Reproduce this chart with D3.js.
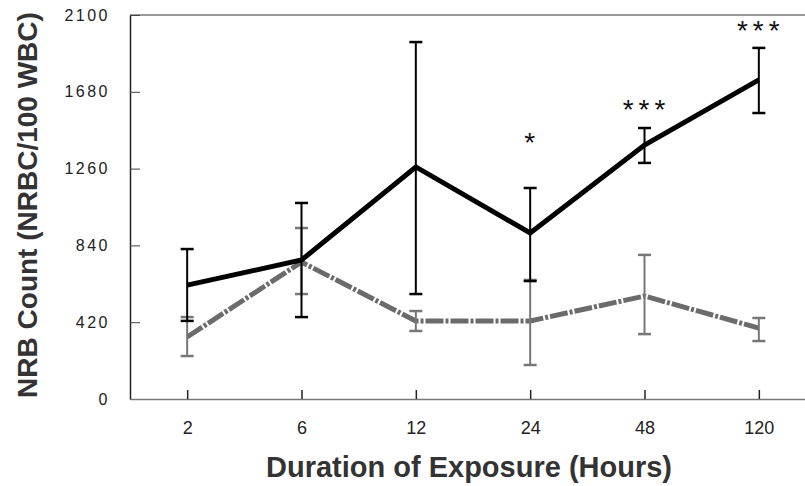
<!DOCTYPE html>
<html>
<head>
<meta charset="utf-8">
<script src="https://cdn.jsdelivr.net/npm/d3@7"></script>
<style>
  body { margin: 0; background: #fff; }
  svg { display: block; font-family: Arial, "Liberation Sans", sans-serif; }
</style>
</head>
<body>
<svg width="805" height="486"></svg>
<script>
'use strict';

// exposure durations (hours)
var hours = ["2", "6", "12", "24", "48", "120"];

// treated group (black solid line)
var treatMean = [623, 760, 1269, 908, 1389, 1745];
var treatHigh = [820, 1072, 1952, 1154, 1482, 1920];
var treatLow  = [427, 448, 574, 645, 1291, 1564];

// control group (grey dash-dot line)
var ctrlMean = [339, 749, 427, 427, 563, 388];
var ctrlHigh = [448, 935, 481, 651, 788, 443];
var ctrlLow  = [235, 574, 372, 186, 355, 317];

// significance markers and the level they sit at
var stars = ["", "", "", "*", "***", "***"];
var starLevel = [0, 0, 0, 1351, 1531, 1963];

var yTicks = [0, 420, 840, 1260, 1680, 2100];

var svg = d3.select("svg");
var margin = {left: 130, top: 15, bottom: 399, right: 816};

var x = d3.scalePoint().domain(hours).range([margin.left, margin.right]).padding(0.5);
var y = d3.scaleLinear().domain([0, 2100]).range([margin.bottom, margin.top]);

// top border
svg.append("line")
    .attr("x1", margin.left).attr("x2", 805)
    .attr("y1", margin.top).attr("y2", margin.top)
    .attr("stroke", "#777").attr("stroke-width", 1.5);

// y axis
var yAxis = svg.append("g")
    .attr("transform", "translate(" + margin.left + ",0)")
    .call(d3.axisRight(y).tickValues(yTicks).tickFormat(d3.format("d")).tickSize(10).tickSizeOuter(0));
yAxis.select(".domain").attr("stroke", "#222").attr("stroke-width", 1.5);
yAxis.selectAll(".tick line").attr("stroke", "#444");
yAxis.selectAll(".tick text")
    .attr("x", -20)
    .attr("text-anchor", "end")
    .attr("fill", "#222")
    .style("font-size", "16px")
    .style("letter-spacing", "2.5px");

// x axis
var xAxis = svg.append("g")
    .attr("transform", "translate(0," + margin.bottom + ")")
    .call(d3.axisTop(x).tickSize(9).tickSizeOuter(0));
xAxis.select(".domain").attr("stroke", "#777").attr("stroke-width", 1.5);
xAxis.selectAll(".tick line").attr("stroke", "#222").attr("stroke-width", 1.5);
xAxis.selectAll(".tick text")
    .attr("y", 35)
    .attr("fill", "#222")
    .style("font-size", "18px");

// axis titles
svg.append("text")
    .attr("transform", "translate(37,205) rotate(-90)")
    .attr("text-anchor", "middle")
    .attr("fill", "#333")
    .style("font-size", "28px")
    .style("font-weight", "bold")
    .text("NRB Count (NRBC/100 WBC)");

svg.append("text")
    .attr("x", 469).attr("y", 477)
    .attr("text-anchor", "middle")
    .attr("fill", "#333")
    .style("font-size", "29px")
    .style("font-weight", "bold")
    .text("Duration of Exposure (Hours)");

function drawSeries(mean, high, low, color, barColor, dash) {
  var g = svg.append("g");
  var line = d3.line()
      .x(function(d, i) { return x(hours[i]); })
      .y(function(d) { return y(d); });

  g.append("path")
      .datum(mean)
      .attr("fill", "none")
      .attr("stroke", color)
      .attr("stroke-width", 5)
      .attr("stroke-dasharray", dash)
      .attr("d", line);

  var bars = g.selectAll(".err")
      .data(hours)
      .enter().append("g");
  bars.append("line")
      .attr("x1", function(d) { return x(d); })
      .attr("x2", function(d) { return x(d); })
      .attr("y1", function(d, i) { return y(high[i]); })
      .attr("y2", function(d, i) { return y(low[i]); })
      .attr("stroke", barColor).attr("stroke-width", 2);
  [high, low].forEach(function(arr) {
    bars.append("line")
        .attr("x1", function(d) { return x(d) - 6.5; })
        .attr("x2", function(d) { return x(d) + 6.5; })
        .attr("y1", function(d, i) { return y(arr[i]); })
        .attr("y2", function(d, i) { return y(arr[i]); })
        .attr("stroke", barColor).attr("stroke-width", 2.5);
  });
}

drawSeries(ctrlMean, ctrlHigh, ctrlLow, "#6b6b6b", "#777", "18,2,3,2");
drawSeries(treatMean, treatHigh, treatLow, "#000", "#000", null);

// significance stars above the treated error bars
svg.append("g").selectAll("text")
    .data(hours)
    .enter().append("text")
    .attr("x", function(d) { return x(d) + 2; })
    .attr("y", function(d, i) { return y(starLevel[i]); })
    .attr("text-anchor", "middle")
    .attr("fill", "#111")
    .style("font-size", "28px")
    .style("letter-spacing", "5px")
    .text(function(d, i) { return stars[i]; });
</script>
</body>
</html>
